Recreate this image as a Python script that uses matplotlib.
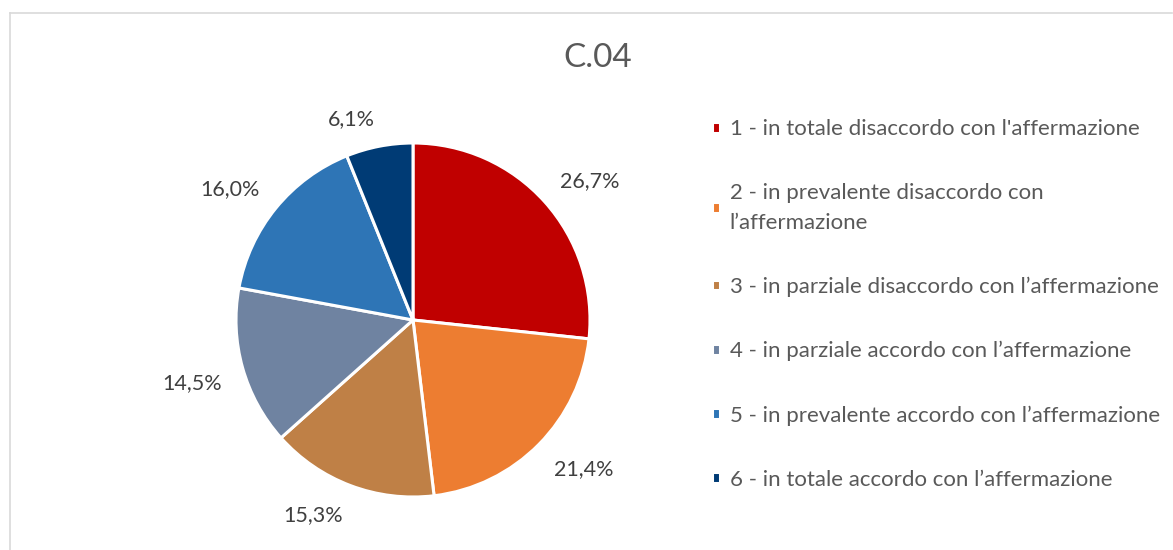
import matplotlib
matplotlib.use("Agg")
import numpy as np
import matplotlib.pyplot as plt
from matplotlib.lines import Line2D

plt.rcParams['font.family'] = ['Lato', 'DejaVu Sans']

title = "C.04"
categories = [
    "1 - in totale disaccordo con l'affermazione",
    "2 - in prevalente disaccordo con\nl\u2019affermazione",
    "3 - in parziale disaccordo con l\u2019affermazione",
    "4 - in parziale accordo con l\u2019affermazione",
    "5 - in prevalente accordo con l\u2019affermazione",
    "6 - in totale accordo con l\u2019affermazione",
]
values = [26.7, 21.4, 15.3, 14.5, 16.0, 6.1]
colors = ["#C00000", "#ED7D31", "#BF8046", "#6F83A1", "#2E75B6", "#003B75"]

W, H = 1173, 550
fig = plt.figure(figsize=(W / 100, H / 100), dpi=100)
fig.patch.set_facecolor("white")

# frame lines (left and top)
fig.add_artist(Line2D([10 / W, 10 / W], [0, 1 - 13 / H], transform=fig.transFigure,
                      color="#D9D9D9", lw=1.2))
fig.add_artist(Line2D([10 / W, 1172 / W], [1 - 13 / H, 1 - 13 / H], transform=fig.transFigure,
                      color="#D9D9D9", lw=1.2))

cx, cy, r = 413, 320, 177
ax = fig.add_axes([(cx - r) / W, (H - cy - r) / H, 2 * r / W, 2 * r / H])
labels = [f"{v:.1f}%".replace(".", ",") for v in values]
wedges, texts = ax.pie(values, colors=colors, startangle=90, counterclock=False,
                       labels=labels, labeldistance=1.12,
                       wedgeprops=dict(edgecolor="white", linewidth=2.2),
                       textprops=dict(fontsize=15.5, color="#404040"))
for w, t in zip(wedges, texts):
    ang = np.deg2rad((w.theta1 + w.theta2) / 2)
    t.set_ha("left" if np.cos(ang) >= 0 else "right")
    t.set_va("baseline" if np.sin(ang) >= 0 else "top")
ax.set_xlim(-1, 1)
ax.set_ylim(-1, 1)
ax.set_aspect("equal")
ax.axis("off")

fig.text(598 / W, 1 - 58 / H, title, ha="center", va="center", fontsize=24, color="#595959")

leg = ax.legend(wedges, categories, loc="upper left",
                bbox_to_anchor=(712 / W, 1 - 119 / H), bbox_transform=fig.transFigure,
                frameon=False, fontsize=16, labelcolor="#595959",
                handlelength=0.38, handleheight=0.38, handletextpad=0.42,
                labelspacing=1.98, borderpad=0, borderaxespad=0)
for t in leg.get_texts():
    t.set_linespacing(1.6)

fig.savefig("out.png", dpi=100, facecolor="white")
